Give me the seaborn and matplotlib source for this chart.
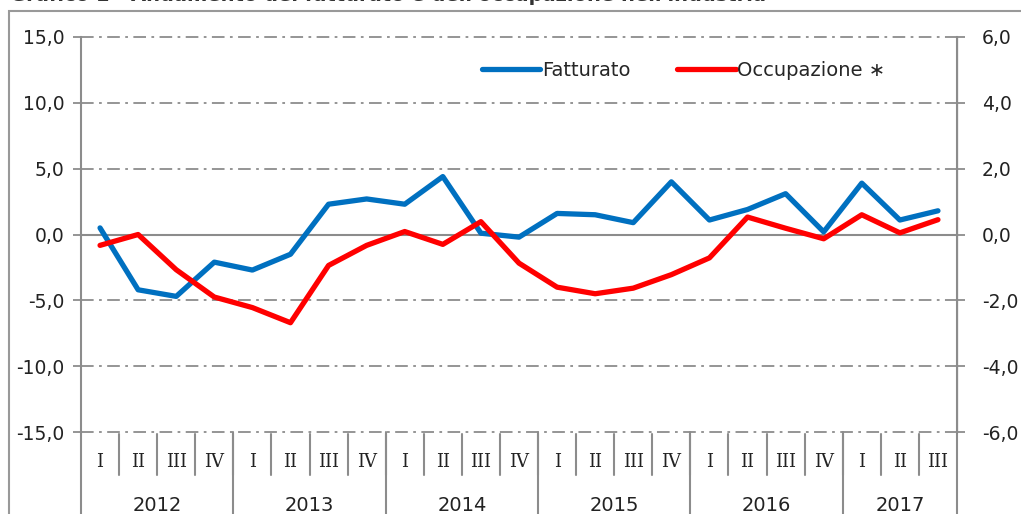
import numpy as np
import matplotlib.pyplot as plt
import pandas as pd
import seaborn as sns
from matplotlib.lines import Line2D
from matplotlib.patches import Rectangle
from matplotlib.ticker import FuncFormatter, FixedLocator

# dati (variazioni %)
anni = ['2012', '2013', '2014', '2015', '2016', '2017']
trimestri = ['I', 'II', 'III', 'IV'] * 5 + ['I', 'II', 'III']
fatturato = [0.5, -4.2, -4.7, -2.1, -2.7, -1.5, 2.3, 2.7, 2.3, 4.4, 0.1, -0.2,
             1.6, 1.5, 0.9, 4.0, 1.1, 1.9, 3.1, 0.2, 3.9, 1.1, 1.8]
occupazione = [-0.33, 0.0, -1.07, -1.9, -2.22, -2.68, -0.94, -0.33, 0.09, -0.3, 0.39, -0.87,
               -1.6, -1.8, -1.63, -1.22, -0.71, 0.53, 0.19, -0.13, 0.6, 0.05, 0.45]

df = pd.DataFrame({'pos': np.arange(len(trimestri)), 'trim': trimestri,
                   'Fatturato': fatturato, 'Occupazione': occupazione})

sns.set_style('white')
plt.rcParams['font.family'] = ['DejaVu Sans']

grigio = '#8c8c8c'
blu = '#0070C0'
rosso = '#FF0000'

fig = plt.figure(figsize=(10.21, 5.14), dpi=100)
ax = fig.add_axes([81/1021, 1-432/514, 876/1021, 395/514])
ax2 = ax.twinx()

sns.lineplot(data=df, x='pos', y='Fatturato', ax=ax, color=blu, linewidth=3.8,
             label='Fatturato', legend=False, zorder=5)
sns.lineplot(data=df, x='pos', y='Occupazione', ax=ax2, color=rosso, linewidth=3.8,
             label='Occupazione \u2217', legend=False, zorder=5)

n = len(trimestri)
ax.set_xlim(-0.5, n - 0.5)
ax.set_ylim(-15, 15)
ax2.set_ylim(-6, 6)
ax.set_yticks(np.arange(-15, 16, 5))
ax2.set_yticks(np.arange(-6, 7, 2))
fmt = FuncFormatter(lambda v, p: f'{v:.1f}'.replace('.', ','))
ax.yaxis.set_major_formatter(fmt)
ax2.yaxis.set_major_formatter(fmt)
ax.set_xlabel('')
ax.set_ylabel('')
ax2.set_ylabel('')

# griglia tratto-punto
for v in np.arange(-15, 16, 5):
    if v == 0:
        continue
    ax.axhline(v, color=grigio, linewidth=1.3, dashes=(7, 3, 1.5, 3), zorder=1, clip_on=False)

# asse x sullo zero
ax.spines['bottom'].set_position(('data', 0))
ax.spines['bottom'].set_color(grigio)
ax.spines['bottom'].set_linewidth(1.5)
ax.xaxis.set_major_locator(FixedLocator(np.arange(0.5, n - 1, 1)))
ax.tick_params(axis='x', direction='out', length=5, width=1.3, color=grigio, labelbottom=False)
for a in (ax, ax2):
    a.spines['top'].set_visible(False)
    a.spines['bottom'].set_visible(a is ax)
ax.spines['left'].set_color(grigio)
ax.spines['left'].set_linewidth(1.5)
ax2.spines['right'].set_color(grigio)
ax2.spines['right'].set_linewidth(1.5)
ax2.spines['left'].set_visible(False)
ax.tick_params(axis='y', direction='out', length=6, width=1.3, color=grigio,
               labelsize=13.5, labelcolor='#222222', pad=6)
ax2.tick_params(axis='y', direction='out', length=6, width=1.3, color=grigio,
                labelsize=13.5, labelcolor='#222222', pad=12)

# etichette categorie
tr = ax.get_xaxis_transform()
ext = -(514 - 432) / 395
for i, t in enumerate(trimestri):
    ax.text(i, -0.076, t, transform=tr, ha='center', va='center', fontsize=13,
            family=['DejaVu Serif'], color='#222222')
for b in np.arange(0.5, n - 1, 1):
    ax.add_line(Line2D([b, b], [-0.005, -0.11], transform=tr, color=grigio,
                       linewidth=1.5, clip_on=False))
confini = [-0.5, 3.5, 7.5, 11.5, 15.5, 19.5, n - 0.5]
for b in confini:
    ax.add_line(Line2D([b, b], [0, ext], transform=tr, color=grigio,
                       linewidth=1.5, clip_on=False))
for k, anno in enumerate(anni):
    c = (confini[k] + confini[k + 1]) / 2
    ax.text(c, -0.185, anno, transform=tr, ha='center', va='center', fontsize=14,
            color='#222222')

# legenda
h1, l1 = ax.get_legend_handles_labels()
h2, l2 = ax2.get_legend_handles_labels()
ax.legend(h1 + h2, l1 + l2, loc='center', bbox_to_anchor=(0.688, 0.916), ncol=2,
          frameon=False, fontsize=14, handlelength=3.0, handletextpad=0.1,
          columnspacing=2.4)

# cornice e titolo tagliato (come nell'originale)
fig.add_artist(Rectangle((9/1021, -0.1), 1.2, 1.1 - 11/514, transform=fig.transFigure,
                         fill=False, edgecolor='#999999', linewidth=1.5))
fig.text(10/1021, 1 - 1/514, "Grafico 1 - Andamento del fatturato e dell'occupazione nell'industria",
         ha='left', va='baseline', fontsize=14, fontweight='bold', color='#333333')

fig.savefig('out.png', dpi=100)
